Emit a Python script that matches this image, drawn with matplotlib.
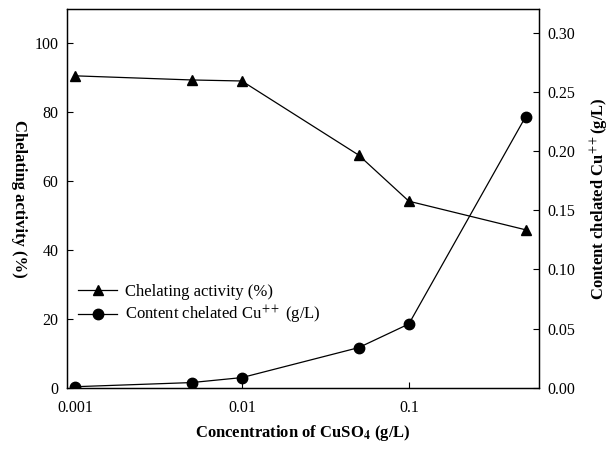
import matplotlib
matplotlib.use("Agg")
import matplotlib.pyplot as plt
import matplotlib.ticker as mtick

plt.rcParams['font.family'] = ['Liberation Serif', 'DejaVu Serif']
plt.rcParams['mathtext.fontset'] = 'stix'

# data
concentration = [0.001, 0.005, 0.01, 0.05, 0.1, 0.5]
chelating_activity = [90.6, 89.4, 89.1, 67.6, 54.2, 45.9]
chelated_cu = [0.001, 0.0045, 0.0087, 0.034, 0.054, 0.229]

x_ticks = [0.001, 0.01, 0.1]
x_tick_labels = ['0.001', '0.01', '0.1']
left_ticks = [0, 20, 40, 60, 80, 100]
right_ticks = [0.00, 0.05, 0.10, 0.15, 0.20, 0.25, 0.30]

fig = plt.figure(figsize=(6.13, 4.5), dpi=100)
ax = fig.add_axes([0.109, 0.138, 0.770, 0.842])
ax2 = ax.twinx()

l1, = ax.plot(concentration, chelating_activity, color='black', lw=0.9,
              marker='^', markersize=7, label='Chelating activity (%)')
l2, = ax2.plot(concentration, chelated_cu, color='black', lw=0.9,
               marker='o', markersize=7.5, label='Content chelated Cu$^{++}$ (g/L)')

ax.set_xscale('log')
ax.set_xlim(0.000895, 0.6)
ax.set_xticks(x_ticks)
ax.set_xticklabels(x_tick_labels)
ax.xaxis.set_minor_locator(mtick.NullLocator())

ax.set_ylim(0, 110)
ax.set_yticks(left_ticks)
ax2.set_ylim(0, 0.32)
ax2.set_yticks(right_ticks)
ax2.yaxis.set_major_formatter(mtick.FormatStrFormatter('%.2f'))

for a in (ax, ax2):
    a.tick_params(direction='in', length=4, width=0.8, labelsize=11.5, pad=6)
    for s in a.spines.values():
        s.set_linewidth(0.9)
ax.tick_params(axis='x', pad=9)

ax.set_xlabel('Concentration of CuSO$_{\\mathbf{4}}$ (g/L)', fontsize=12, fontweight='bold', labelpad=5)
ax.set_ylabel('Chelating activity (%)', fontsize=12, fontweight='bold', rotation=270, labelpad=22)
ax.yaxis.set_label_coords(-0.119, 0.5)
ax2.set_ylabel('Content chelated Cu$^{++}$(g/L)', fontsize=12, fontweight='bold', rotation=90, labelpad=10)

leg = ax.legend(handles=[l1, l2], loc='upper left', bbox_to_anchor=(0.0, 0.306),
                frameon=False, fontsize=12, handlelength=2.3, handletextpad=0.5,
                labelspacing=0.25, borderaxespad=0.3)

fig.savefig('out.png', dpi=100)
